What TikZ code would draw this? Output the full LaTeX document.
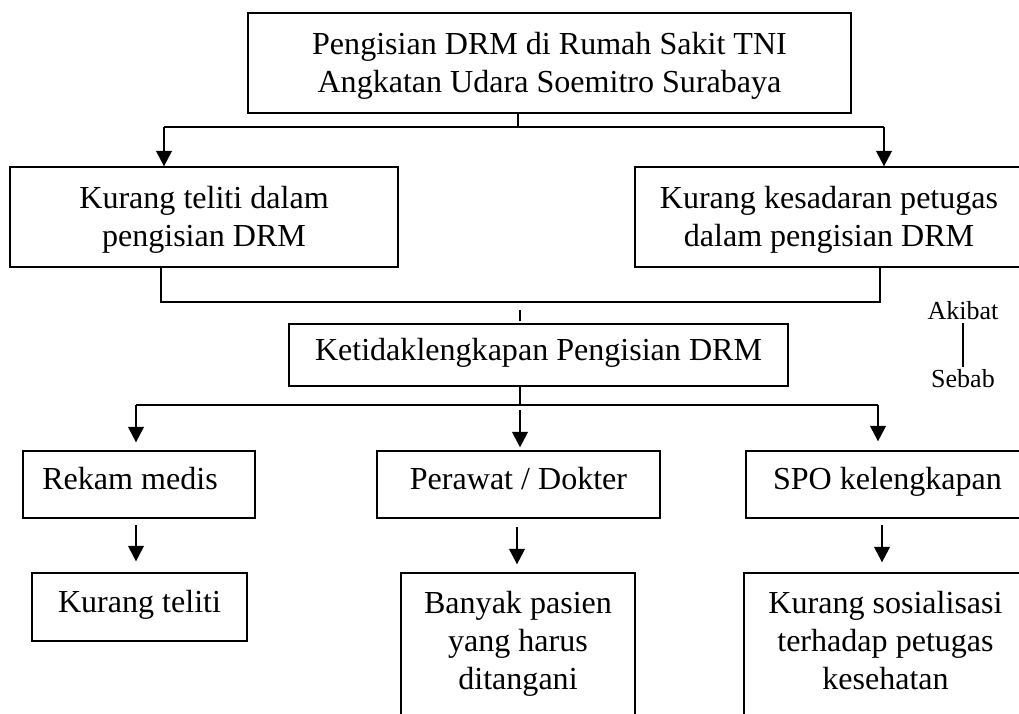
\documentclass[tikz,border=0pt]{standalone}
\usepackage{fontspec}
\setmainfont{Liberation Serif}
\usetikzlibrary{arrows.meta}

\begin{document}
\begin{tikzpicture}[x=0.025cm,y=-0.025cm,
    box/.style={draw, line width=0.9pt, inner sep=0pt, align=center, font=\fontsize{22.8}{27}\selectfont},
    onebox/.style={box, text height=15.5pt, text depth=8.2pt},
    thinline/.style={line width=0.8pt},
    downarrow/.style={-{Triangle[width=11pt,length=11pt]}, line width=1.7pt},
    note/.style={inner sep=2pt, font=\fontsize{18.5}{22}\selectfont}]
                \useasboundingbox (0,0) rectangle (1019,713);

                % Top box
                \node[box, minimum width=15.075cm, minimum height=2.5cm] (top) at (549.5,63) {\rule{0pt}{0.87em}Pengisian DRM di Rumah Sakit TNI\\Angkatan Udara Soemitro Surabaya};

                % First level
                \node[box, minimum width=9.7cm, minimum height=2.5cm] (teliti) at (204,217) {\rule{0pt}{0.87em}Kurang teliti dalam\\pengisian DRM};
                \node[box, minimum width=9.7cm, minimum height=2.5cm] (sadar) at (829,217) {\rule{0pt}{0.87em}Kurang kesadaran petugas\\dalam pengisian DRM};

                % Middle box
                \node[onebox, minimum width=12.475cm, minimum height=1.55cm] (tidak) at (538.5,355) {Ketidaklengkapan Pengisian DRM};

                % Akibat / Sebab
                \node[note] (akibat) at (963,311) {Akibat};
                \node[note] (sebab) at (963,379) {Sebab};
                \draw[thinline] (akibat.south) -- (sebab.north);

                % Second level
                \node[onebox, minimum width=5.8cm, minimum height=1.675cm] (rekam) at (139,484.5) {Rekam medis\hspace*{0.45cm}};
                \node[onebox, minimum width=7.075cm, minimum height=1.675cm] (perawat) at (518.5,484.5) {Perawat / Dokter};
                \node[onebox, minimum width=7.075cm, minimum height=1.675cm] (spo) at (887.5,484.5) {SPO kelengkapan};

                % Third level
                \node[onebox, minimum width=5.375cm, minimum height=1.7cm] (kteliti) at (139.5,607) {Kurang teliti};
                \node[box, minimum width=5.85cm, minimum height=3.75cm] (pasien) at (518,648) {Banyak pasien\\yang harus\\ditangani\rule[-0.5em]{0pt}{0pt}};
                \node[box, minimum width=7.075cm, minimum height=3.75cm] (sosial) at (885.5,648) {Kurang sosialisasi\\terhadap petugas\\kesehatan\rule[-0.5em]{0pt}{0pt}};

                % Top box to first level
                \coordinate (tj) at (518,127);
                \coordinate (tl) at (164,127);
                \coordinate (tr) at (884,127);
                \draw[thinline] (top.south -| tj) -- (tj);
                \draw[thinline] (tl) -- (tr);
                \draw[downarrow] (tl) -- (teliti.north -| tl);
                \draw[downarrow] (tr) -- (sadar.north -| tr);

                % First level joined to the middle box
                \coordinate (jl) at (161,302);
                \coordinate (jr) at (880,302);
                \coordinate (jm) at (520,310);
                \draw[thinline] (teliti.south -| jl) -- (jl) -- (jr) -- (sadar.south -| jr);
                \draw[thinline, shorten >=1.5pt] (jm) -- (tidak.north -| jm);

                % Middle box to second level
                \coordinate (bm) at (520,405);
                \coordinate (bl) at (136,405);
                \coordinate (br) at (878,405);
                \coordinate (bm2) at (520,410);
                \draw[thinline] (tidak.south -| bm) -- (bm);
                \draw[thinline] (bl) -- (br);
                \draw[downarrow, shorten >=0.2cm] (bl) -- (rekam.north -| bl);
                \draw[downarrow, shorten >=0.075cm] (bm2) -- (perawat.north -| bm2);
                \draw[downarrow, shorten >=0.225cm] (br) -- (spo.north -| br);

                % Second level to third level
                \coordinate (al) at (136,525);
                \coordinate (am) at (517,527);
                \coordinate (ar) at (882,525);
                \draw[downarrow, shorten >=0.275cm] (al) -- (kteliti.north -| al);
                \draw[downarrow, shorten >=0.2cm] (am) -- (pasien.north -| am);
                \draw[downarrow, shorten >=0.25cm] (ar) -- (sosial.north -| ar);
            \end{tikzpicture}
\end{document}
